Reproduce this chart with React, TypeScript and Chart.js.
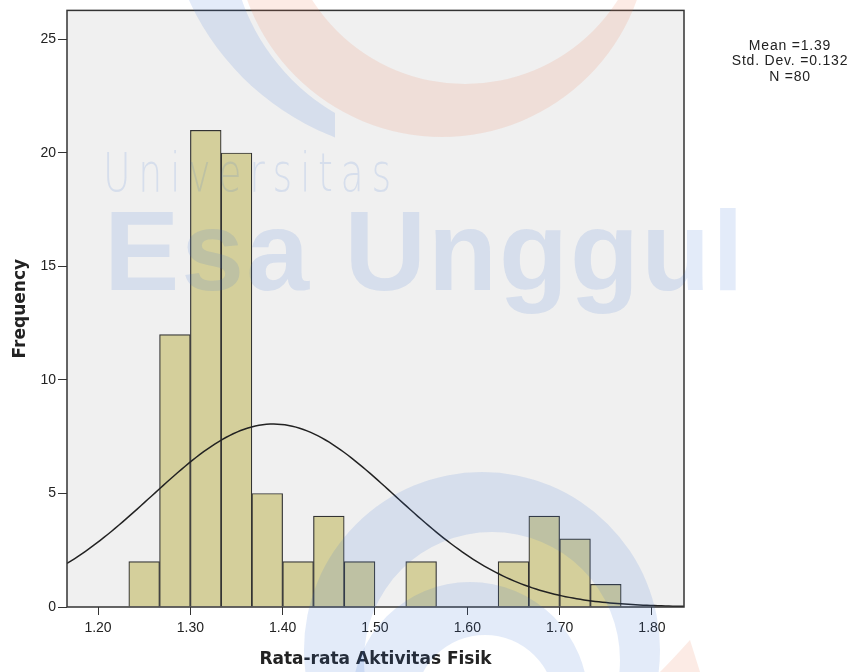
import { useEffect, useRef } from 'react';
import { Chart, registerables } from 'chart.js';

Chart.register(...registerables);

// ---- data ----
const binCenters = [1.25, 1.2833, 1.3167, 1.35, 1.3833, 1.4167, 1.45, 1.4833, 1.5167, 1.55, 1.5833, 1.6167, 1.65, 1.6833, 1.7167, 1.75];
const frequencies = [2, 12, 21, 20, 5, 2, 4, 2, 0, 2, 0, 0, 2, 4, 3, 1];
const xTickValues = [1.2, 1.3, 1.4, 1.5, 1.6, 1.7, 1.8];
const yTickValues = [0, 5, 10, 15, 20, 25];
const statLines = ['Mean =1.39', 'Std. Dev. =0.132', 'N =80'];
const xTitle = 'Rata-rata Aktivitas Fisik';
const yTitle = 'Frequency';
const watermarkSmall = 'Universitas';
const watermarkBig = 'Esa Unggul';
const MEAN = 1.39;
const SD = 0.132;
const N = 80;
const BIN_WIDTH = 1 / 30;
const X_MIN = 1.1664;
const X_MAX = 1.8347;
const Y_MAX = 26.28;

// normal curve from the stated mean / std. dev. / N
const curveXs: number[] = [];
for (let x = X_MIN; x <= X_MAX + 1e-9; x += 0.004) curveXs.push(x);
const curvePoints = curveXs.map((x) => ({
  x,
  y: (N * BIN_WIDTH) / (SD * Math.sqrt(2 * Math.PI)) * Math.exp(-((x - MEAN) ** 2) / (2 * SD * SD)),
}));

function ring(ctx: CanvasRenderingContext2D, ox: number, oy: number, or: number, ix: number, iy: number, ir: number, color: string) {
  ctx.beginPath();
  ctx.arc(ox, oy, or, 0, Math.PI * 2);
  ctx.moveTo(ix + ir, iy);
  ctx.arc(ix, iy, ir, 0, Math.PI * 2);
  ctx.fillStyle = color;
  ctx.fill('evenodd');
}

const framePlugin = {
  id: 'framePlugin',
  beforeDraw(chart: any) {
    const { ctx, chartArea } = chart;
    const { left, top, right, bottom } = chartArea;
    ctx.save();
    ctx.fillStyle = '#f0f0f0';
    ctx.fillRect(left, top, right - left, bottom - top);
    ctx.restore();
  },
  afterDraw(chart: any) {
    const { ctx, chartArea } = chart;
    const { left, top, right, bottom } = chartArea;
    ctx.save();
    ctx.strokeStyle = '#333';
    ctx.lineWidth = 1.5;
    ctx.strokeRect(left, top, right - left, bottom - top);
    ctx.fillStyle = '#222';
    ctx.font = '14px "Liberation Sans", Arial, sans-serif';
    (ctx as any).letterSpacing = '0.8px';
    ctx.textAlign = 'center';
    ctx.textBaseline = 'middle';
    statLines.forEach((t, i) => ctx.fillText(t, 790, 46 + i * 15.5));
    ctx.restore();

    // faint watermark overlay
    ctx.save();
    const blue = 'rgba(60,115,215,0.14)';
    const orange = 'rgba(235,120,80,0.15)';
    // top orange crescent
    ring(ctx, 442, -70, 207, 465, -97, 181, orange);
    // top-left blue swoosh
    ctx.save();
    ctx.beginPath();
    ctx.rect(150, 0, 185, 140);
    ctx.clip();
    ring(ctx, 430, -110, 265, 442, -70, 212, blue);
    ctx.restore();
    // bottom blue rings
    ring(ctx, 482, 650, 178, 492, 660, 128, blue);
    ring(ctx, 470, 700, 118, 485, 705, 70, blue);
    // bottom-right orange sliver
    ctx.beginPath();
    ctx.moveTo(690, 640);
    ctx.quadraticCurveTo(672, 660, 660, 672);
    ctx.lineTo(700, 672);
    ctx.closePath();
    ctx.fillStyle = orange;
    ctx.fill();
    // texts
    ctx.fillStyle = blue;
    ctx.textAlign = 'left';
    ctx.textBaseline = 'alphabetic';
    ctx.save();
    ctx.translate(103, 191);
    ctx.scale(0.7, 1);
    ctx.font = '200 54px "DejaVu Sans", sans-serif';
    (ctx as any).letterSpacing = '11px';
    ctx.fillText(watermarkSmall, 0, 0);
    ctx.restore();
    ctx.font = 'bold 113px "Liberation Sans", Arial, sans-serif';
    (ctx as any).letterSpacing = '2px';
    ctx.fillText(watermarkBig, 104, 290);
    ctx.restore();
  },
};

export default function App() {
  const ref = useRef<HTMLCanvasElement>(null);
  useEffect(() => {
    if (!ref.current) return;
    const chart = new Chart(ref.current, {
      type: 'bar',
      data: {
        datasets: [
          {
            type: 'line',
            data: curvePoints,
            borderColor: '#222',
            borderWidth: 1.5,
            pointRadius: 0,
            tension: 0,
            order: 0,
          } as any,
          {
            type: 'bar',
            data: binCenters.map((x, i) => ({ x, y: frequencies[i] })),
            backgroundColor: '#d4cf9b',
            borderColor: '#333',
            borderWidth: 1.2,
            barPercentage: 1,
            categoryPercentage: 1,
            order: 1,
          } as any,
        ],
      },
      options: {
        responsive: false,
        animation: false,
        events: [],
        layout: { padding: { top: 10, right: 172, left: 0, bottom: 0 } },
        plugins: { legend: { display: false }, tooltip: { enabled: false } },
        scales: {
          x: {
            type: 'linear',
            min: X_MIN,
            max: X_MAX,
            offset: false,
            afterBuildTicks: (s: any) => { s.ticks = xTickValues.map((v) => ({ value: v })); },
            afterFit: (s: any) => { s.height = 65; },
            grid: { display: true, drawOnChartArea: false, drawTicks: true, tickLength: 8, color: '#333', offset: false },
            border: { display: false },
            ticks: {
              color: '#222',
              font: { family: '"Liberation Sans", Arial, sans-serif', size: 14 },
              padding: 5,
              maxRotation: 0,
              autoSkip: false,
              callback: (v: any) => Number(v).toFixed(2),
            },
            title: {
              display: true,
              text: xTitle,
              color: '#222',
              font: { family: '"DejaVu Sans", sans-serif', size: 17, weight: 'bold' },
              padding: { top: 0, bottom: 2 },
            },
          },
          y: {
            type: 'linear',
            min: 0,
            max: Y_MAX,
            afterBuildTicks: (s: any) => { s.ticks = yTickValues.map((v) => ({ value: v })); },
            afterFit: (s: any) => { s.width = 67; },
            grid: { display: true, drawOnChartArea: false, drawTicks: true, tickLength: 9, color: '#333' },
            border: { display: false },
            ticks: {
              color: '#222',
              font: { family: '"Liberation Sans", Arial, sans-serif', size: 14 },
              padding: 2,
            },
            title: {
              display: true,
              text: yTitle,
              color: '#222',
              font: { family: '"DejaVu Sans", sans-serif', size: 17, weight: 'bold' },
              padding: { top: 10, bottom: 0 },
            },
          },
        },
      },
      plugins: [framePlugin],
    });
    return () => chart.destroy();
  }, []);
  return (
    <div style={{ position: 'absolute', left: 0, top: 0, width: 856, height: 672, background: '#fff' }}>
      <canvas ref={ref} width={856} height={672} />
    </div>
  );
}
